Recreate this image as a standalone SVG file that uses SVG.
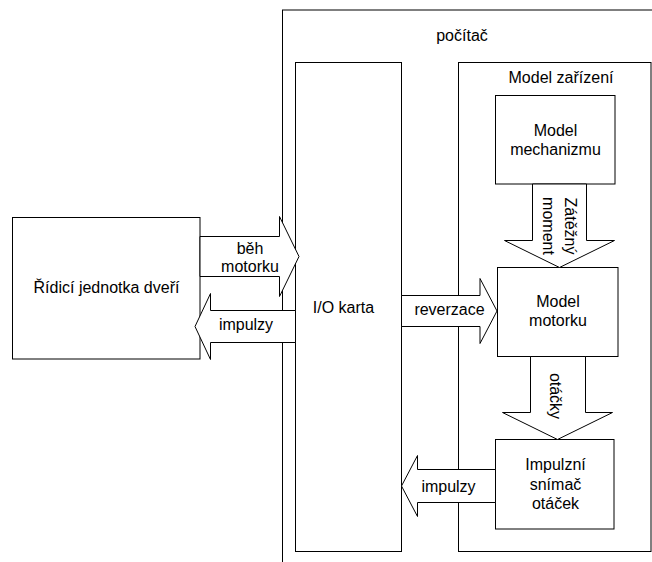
<svg xmlns="http://www.w3.org/2000/svg" width="652" height="562" viewBox="0 0 652 562">
<style>
.box{fill:#fff;stroke:#000;stroke-width:1}
.frame{fill:none;stroke:#000;stroke-width:1}
.arrow{fill:#fff;stroke:#000;stroke-width:1;stroke-linejoin:miter}
text{font-family:"Liberation Sans",Arial,sans-serif;font-size:16px;fill:#000;text-anchor:middle}
</style>
<rect width="652" height="562" fill="#fff"/>
<g id="pocitac">
<rect class="frame" x="282.5" y="10" width="420" height="600"/>
<text x="462" y="41">počítač</text>
</g>
<g id="io-karta">
<rect class="box" x="295.5" y="62.5" width="106" height="489"/>
<text x="343.5" y="313">I/O karta</text>
</g>
<g id="model-zarizeni">
<rect class="box" x="458.5" y="62.5" width="192.5" height="489"/>
<text x="561" y="83">Model zařízení</text>
</g>
<g id="model-mechanizmu">
<rect class="box" x="495.5" y="95.5" width="119.5" height="88.5"/>
<text x="555.5" y="136">Model</text>
<text x="555.5" y="154.5">mechanizmu</text>
</g>
<g id="model-motorku">
<rect class="box" x="497.5" y="267.5" width="120.5" height="89"/>
<text x="558" y="307">Model</text>
<text x="558" y="326">motorku</text>
</g>
<g id="impulzni-snimac">
<rect class="box" x="495.5" y="439.5" width="118.5" height="89.5"/>
<text x="555.5" y="470">Impulzní</text>
<text x="555.5" y="489.5">snímač</text>
<text x="555.5" y="509">otáček</text>
</g>
<g id="ridici-jednotka">
<rect class="box" x="12.5" y="217.5" width="187.5" height="141.5"/>
<text x="106.5" y="293">Řídicí jednotka dveří</text>
</g>
<g id="connectors">
<g id="beh-motorku">
<polygon class="arrow" points="200,236.5 279.5,236.5 279.5,216.5 299,256.5 279.5,296.5 279.5,276.5 200,276.5"/>
<text x="250" y="253.5">běh</text>
<text x="250" y="272">motorku</text>
</g>
<g id="impulzy-left">
<polygon class="arrow" points="295.5,310.5 210.5,310.5 210.5,293.5 195,326.5 210.5,359.5 210.5,342.5 295.5,342.5"/>
<text x="246" y="330">impulzy</text>
</g>
<g id="reverzace">
<polygon class="arrow" points="401.5,295.5 480,295.5 480,278.5 497,311 480,343.5 480,326.5 401.5,326.5"/>
<text x="449.5" y="315">reverzace</text>
</g>
<g id="impulzy-right">
<polygon class="arrow" points="495.5,469.5 417.5,469.5 417.5,455.5 401.5,486 417.5,516.5 417.5,502.5 495.5,502.5"/>
<text x="448.5" y="491.5">impulzy</text>
</g>
<g id="zatezny-moment">
<polygon class="arrow" points="532.5,184 532.5,240.5 504.5,240.5 559.5,267.5 614.5,240.5 586.5,240.5 586.5,184"/>
<g transform="translate(555,226) rotate(90)">
<text x="0" y="-9.5">Zátěžný</text>
<text x="0" y="12.5">moment</text>
</g>
</g>
<g id="otacky">
<polygon class="arrow" points="530.5,356.5 530.5,412.5 502.5,412.5 557.5,439.5 612.5,412.5 585.5,412.5 585.5,356.5"/>
<text transform="translate(557,396) rotate(90)" x="0" y="7">otáčky</text>
</g>
</g>
</svg>
